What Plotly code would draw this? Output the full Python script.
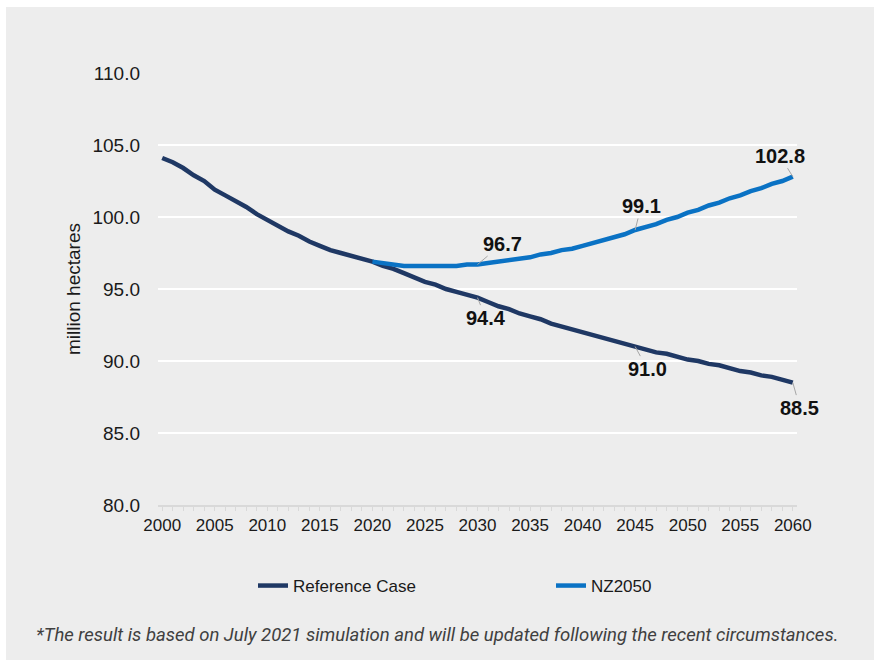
import plotly.graph_objects as go

# Land area projections (million hectares)
years_ref = list(range(2000, 2061))
reference_case = [
    104.1, 103.8, 103.4, 102.9, 102.5, 101.9, 101.5, 101.1, 100.7, 100.2,
    99.8, 99.4, 99.0, 98.7, 98.3, 98.0, 97.7, 97.5, 97.3, 97.1,
    96.9, 96.6, 96.4, 96.1, 95.8, 95.5, 95.3, 95.0, 94.8, 94.6,
    94.4, 94.1, 93.8, 93.6, 93.3, 93.1, 92.9, 92.6, 92.4, 92.2,
    92.0, 91.8, 91.6, 91.4, 91.2, 91.0, 90.8, 90.6, 90.5, 90.3,
    90.1, 90.0, 89.8, 89.7, 89.5, 89.3, 89.2, 89.0, 88.9, 88.7,
    88.5,
]

years_nz = list(range(2020, 2061))
nz2050 = [
    96.9, 96.8, 96.7, 96.6, 96.6, 96.6, 96.6, 96.6, 96.6, 96.7,
    96.7, 96.8, 96.9, 97.0, 97.1, 97.2, 97.4, 97.5, 97.7, 97.8,
    98.0, 98.2, 98.4, 98.6, 98.8, 99.1, 99.3, 99.5, 99.8, 100.0,
    100.3, 100.5, 100.8, 101.0, 101.3, 101.5, 101.8, 102.0, 102.3, 102.5,
    102.8,
]

y_ticks = [80, 85, 90, 95, 100, 105, 110]
x_ticks = list(range(2000, 2061, 5))

# Labelled points: (series, year, text offset x, text offset y)
callouts = [
    ("nz", 2030, 25, -21),
    ("ref", 2030, 8, 20),
    ("nz", 2045, 6, -24),
    ("ref", 2045, 12, 22),
    ("nz", 2060, -13, -21),
    ("ref", 2060, 7, 25),
]

DARK = "#1f3864"
BLUE = "#0a72c4"
BG = "#ededed"
FONT = "Liberation Sans, Arial, sans-serif"

fig = go.Figure()
fig.add_trace(go.Scatter(
    x=years_ref, y=reference_case, mode="lines", name="Reference Case",
    line=dict(color=DARK, width=4.5),
))
fig.add_trace(go.Scatter(
    x=years_nz, y=nz2050, mode="lines", name="NZ2050",
    line=dict(color=BLUE, width=4.5),
))

for series, yr, ax, ay in callouts:
    if series == "ref":
        val = reference_case[years_ref.index(yr)]
    else:
        val = nz2050[years_nz.index(yr)]
    fig.add_annotation(
        x=yr, y=val, xref="x", yref="y", text=f"<b>{val:.1f}</b>",
        showarrow=True, arrowhead=0, arrowwidth=1, arrowcolor="#a6a6a6",
        ax=ax, ay=ay, standoff=0,
        font=dict(family=FONT, size=20, color="#111111"),
    )

# plot-area geometry (px) used to place the grey panel and footnote
W, H = 874, 663
ML, MR, MT, MB = 158, 77, 73, 158
pw, ph = W - ML - MR, H - MT - MB

def px_x(p):
    return (p - ML) / pw

def px_y(p):
    return (H - MB - p) / ph

fig.add_shape(
    type="rect", xref="paper", yref="paper", layer="below",
    x0=px_x(6), x1=px_x(W + 2), y0=px_y(660), y1=px_y(7),
    fillcolor=BG, line=dict(width=0),
)

fig.add_annotation(
    xref="paper", yref="paper", x=px_x(437), y=px_y(635),
    text="<i>*The result is based on July 2021 simulation and will be updated following the recent circumstances.</i>",
    showarrow=False, xanchor="center", yanchor="middle",
    font=dict(family="Roboto, sans-serif", size=18.5, color="#404040"),
)

fig.update_layout(
    width=W, height=H,
    margin=dict(l=ML, r=MR, t=MT, b=MB, pad=0),
    paper_bgcolor="white", plot_bgcolor=BG,
    font=dict(family=FONT, color="#1a1a1a"),
    showlegend=True,
    legend=dict(
        orientation="h", x=px_x(253), xanchor="left", y=px_y(586), yanchor="middle",
        font=dict(family=FONT, size=17, color="#1a1a1a"),
        bgcolor="rgba(0,0,0,0)", entrywidth=253, entrywidthmode="pixels",
        itemwidth=30,
    ),
    xaxis=dict(
        range=[1999.6, 2060.4], tickvals=x_ticks, ticktext=[str(v) for v in x_ticks],
        showgrid=False, zeroline=False,
        showline=True, linecolor="#d9d9d9", linewidth=1.5,
        ticks="outside", ticklen=4, tickcolor="#d9d9d9",
        minor=dict(dtick=1, ticks="outside", ticklen=4, tickcolor="#d9d9d9"),
        tickfont=dict(family=FONT, size=17, color="#1a1a1a"),
    ),
    yaxis=dict(
        range=[80, 110], tickvals=y_ticks, ticktext=[f"{v:.1f}" for v in y_ticks],
        showgrid=True, gridcolor="white", gridwidth=1.5,
        zeroline=False, showline=False,
        tickfont=dict(family=FONT, size=19, color="#1a1a1a"),
        ticklabelstandoff=17,
        title=dict(text="million hectares", standoff=6,
                   font=dict(family=FONT, size=19, color="#1a1a1a")),
    ),
)

fig.write_html("out.html")
